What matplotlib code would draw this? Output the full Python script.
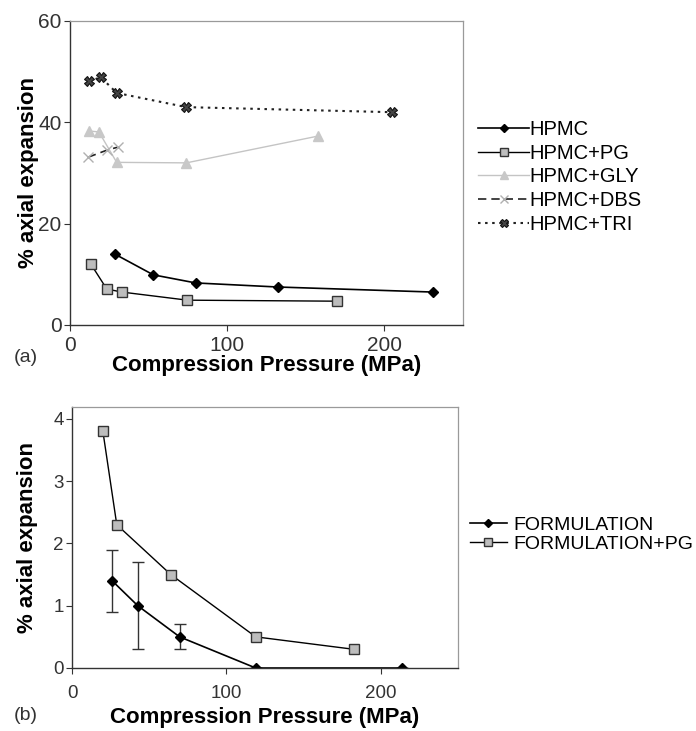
import matplotlib
matplotlib.use("Agg")
import matplotlib.pyplot as plt

plt.rcParams['font.family'] = ['Liberation Sans', 'DejaVu Sans']

# Panel (a): polymer films with plasticisers
hpmc_x = [28.5, 53, 80, 132, 231]
hpmc_y = [14.0, 9.9, 8.3, 7.5, 6.5]
pg_x = [13.3, 23.4, 33, 74.7, 170]
pg_y = [12.0, 7.1, 6.5, 4.9, 4.7]
gly_x = [12, 18.4, 29.7, 74, 158]
gly_y = [38.3, 38.1, 32.1, 32.0, 37.3]
dbs_x = [11.4, 23.4, 30.4]
dbs_y = [33.1, 34.5, 35.1]
tri_x = [12, 19.6, 29.7, 74, 205]
tri_y = [48.1, 48.9, 45.8, 43.0, 42.0]

# Panel (b): tablet formulations
form_x = [26, 42.6, 69.7, 119, 214]
form_y = [1.4, 1.0, 0.5, 0.0, 0.0]
form_err = [0.5, 0.7, 0.2, 0.0, 0.0]
formpg_x = [20, 29, 64, 119, 182.6]
formpg_y = [3.8, 2.3, 1.5, 0.5, 0.3]

labels_a = ['HPMC', 'HPMC+PG', 'HPMC+GLY', 'HPMC+DBS', 'HPMC+TRI']
labels_b = ['FORMULATION', 'FORMULATION+PG']

fig = plt.figure(figsize=(6.96, 7.31), dpi=100)

def style_axes(ax, tick_size, xpad):
    ax.spines['left'].set_color('#333333')
    ax.spines['bottom'].set_color('#333333')
    ax.spines['left'].set_linewidth(1.0)
    ax.spines['bottom'].set_linewidth(1.0)
    for s in ('top', 'right'):
        ax.spines[s].set_color('#9a9a9a')
        ax.spines[s].set_linewidth(0.9)
    ax.tick_params(direction='out', length=4, width=0.8, colors='#333333',
                   labelsize=tick_size, labelcolor='#333333', pad=2)
    ax.tick_params(axis='x', pad=xpad)

# ---- panel (a)
ax1 = fig.add_axes([70/696, 1-325/731, (463-70)/696, (325-21)/731])
ax1.plot(hpmc_x, hpmc_y, color='black', lw=1.2, marker='D', ms=5.5,
         mfc='black', mec='black', label=labels_a[0])
ax1.plot(pg_x, pg_y, color='black', lw=1.0, marker='s', ms=7.5,
         mfc='#bdbdbd', mec='#333333', mew=1.0, label=labels_a[1])
ax1.plot(gly_x, gly_y, color='#c4c4c4', lw=1.0, marker='^', ms=7.5,
         mfc='#c8c8c8', mec='#c8c8c8', label=labels_a[2])
ax1.plot(dbs_x, dbs_y, color='#222222', lw=1.2, ls=(0, (5, 3)), marker='x',
         ms=7, mec='#b0b0b0', mew=1.0, label=labels_a[3])
ax1.plot(tri_x, tri_y, color='#222222', lw=1.5, ls=(0, (1.2, 2.2)), marker='X',
         ms=6.5, mfc='#444444', mec='#111111', mew=0.8, label=labels_a[4])
ax1.set_xlim(0, 250)
ax1.set_ylim(0, 60)
ax1.set_xticks([0, 100, 200])
ax1.set_yticks([0, 20, 40, 60])
style_axes(ax1, 15, 4)
ax1.set_ylabel('% axial expansion', fontsize=16, fontweight='bold')
ax1.yaxis.set_label_coords(-0.079, 0.5)
ax1.set_xlabel('Compression Pressure (MPa)', fontsize=16, fontweight='bold', labelpad=0)
ax1.legend(loc='upper left', bbox_to_anchor=(1.039, 0.675), frameon=False,
           fontsize=14.5, handlelength=2.5, handletextpad=0.05,
           labelspacing=0.24, borderaxespad=0, borderpad=0, markerscale=0.8)
fig.text(14/696, 1-357/731, '(a)', fontsize=14, va='center', ha='left', color='#333333')

# ---- panel (b)
ax2 = fig.add_axes([72/696, 1-668/731, (458-72)/696, (668-407)/731])
ax2.errorbar(form_x, form_y, yerr=form_err, fmt='none', ecolor='#333333',
             elinewidth=1.0, capsize=4, capthick=1.0)
ax2.plot(form_x, form_y, color='black', lw=1.2, marker='D', ms=5.5,
         mfc='black', mec='black', label=labels_b[0])
ax2.plot(formpg_x, formpg_y, color='black', lw=1.0, marker='s', ms=7.5,
         mfc='#bdbdbd', mec='#333333', mew=1.0, label=labels_b[1])
ax2.set_xlim(0, 250)
ax2.set_ylim(0, 4.19)
ax2.set_xticks([0, 100, 200])
ax2.set_yticks([0, 1, 2, 3, 4])
style_axes(ax2, 13.5, 8)
ax2.set_ylabel('% axial expansion', fontsize=16, fontweight='bold')
ax2.yaxis.set_label_coords(-0.088, 0.5)
ax2.set_xlabel('Compression Pressure (MPa)', fontsize=16, fontweight='bold', labelpad=4)
ax2.legend(loc='upper left', bbox_to_anchor=(1.03, 0.582),
           frameon=False, fontsize=14, handlelength=1.9, handletextpad=0.35,
           labelspacing=0.1, borderaxespad=0, borderpad=0, markerscale=0.8)
fig.text(14/696, 1-716/731, '(b)', fontsize=14, va='center', ha='left', color='#333333')

fig.savefig('out.png', dpi=100)
